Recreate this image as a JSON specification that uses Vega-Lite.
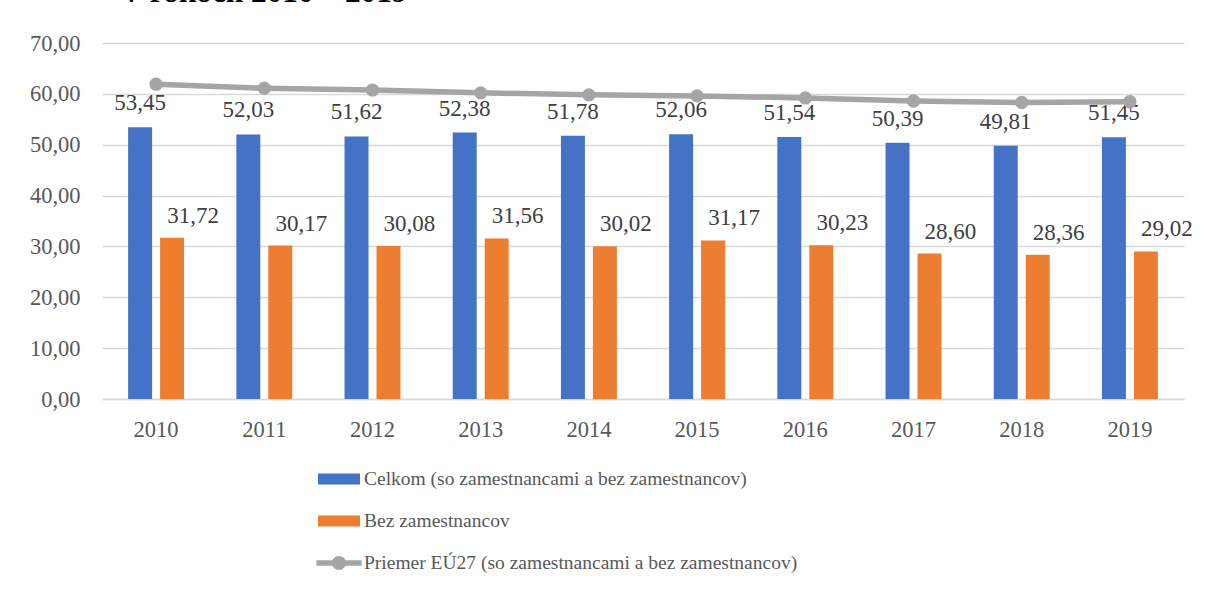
{
  "$schema": "https://vega.github.io/schema/vega-lite/v6.json",
  "width": 1082,
  "height": 356,
  "autosize": {"type": "none"},
  "padding": {"left": 102, "top": 43, "right": 22, "bottom": 191},
  "background": "white",
  "title": {
    "text": "V rokoch 2010 – 2019",
    "font": "Liberation Serif",
    "fontSize": 31.3,
    "fontWeight": "bold",
    "color": "#000000",
    "anchor": "start",
    "frame": "group",
    "dx": 18,
    "offset": -1,
    "baseline": "alphabetic"
  },
  "config": {
    "locale": {"number": {"decimal": ",", "thousands": " ", "grouping": [3], "currency": ["", " €"]}},
    "view": {"stroke": null},
    "font": "Liberation Serif"
  },
  "data": {
    "values": [
      {"year": "2010", "series": "Celkom (so zamestnancami a bez zamestnancov)", "value": 53.45},
      {"year": "2011", "series": "Celkom (so zamestnancami a bez zamestnancov)", "value": 52.03},
      {"year": "2012", "series": "Celkom (so zamestnancami a bez zamestnancov)", "value": 51.62},
      {"year": "2013", "series": "Celkom (so zamestnancami a bez zamestnancov)", "value": 52.38},
      {"year": "2014", "series": "Celkom (so zamestnancami a bez zamestnancov)", "value": 51.78},
      {"year": "2015", "series": "Celkom (so zamestnancami a bez zamestnancov)", "value": 52.06},
      {"year": "2016", "series": "Celkom (so zamestnancami a bez zamestnancov)", "value": 51.54},
      {"year": "2017", "series": "Celkom (so zamestnancami a bez zamestnancov)", "value": 50.39},
      {"year": "2018", "series": "Celkom (so zamestnancami a bez zamestnancov)", "value": 49.81},
      {"year": "2019", "series": "Celkom (so zamestnancami a bez zamestnancov)", "value": 51.45},
      {"year": "2010", "series": "Bez zamestnancov", "value": 31.72},
      {"year": "2011", "series": "Bez zamestnancov", "value": 30.17},
      {"year": "2012", "series": "Bez zamestnancov", "value": 30.08},
      {"year": "2013", "series": "Bez zamestnancov", "value": 31.56},
      {"year": "2014", "series": "Bez zamestnancov", "value": 30.02},
      {"year": "2015", "series": "Bez zamestnancov", "value": 31.17},
      {"year": "2016", "series": "Bez zamestnancov", "value": 30.23},
      {"year": "2017", "series": "Bez zamestnancov", "value": 28.60},
      {"year": "2018", "series": "Bez zamestnancov", "value": 28.36},
      {"year": "2019", "series": "Bez zamestnancov", "value": 29.02},
      {"year": "2010", "series": "Priemer EÚ27 (so zamestnancami a bez zamestnancov)", "value": 61.9},
      {"year": "2011", "series": "Priemer EÚ27 (so zamestnancami a bez zamestnancov)", "value": 61.1},
      {"year": "2012", "series": "Priemer EÚ27 (so zamestnancami a bez zamestnancov)", "value": 60.75},
      {"year": "2013", "series": "Priemer EÚ27 (so zamestnancami a bez zamestnancov)", "value": 60.2},
      {"year": "2014", "series": "Priemer EÚ27 (so zamestnancami a bez zamestnancov)", "value": 59.8},
      {"year": "2015", "series": "Priemer EÚ27 (so zamestnancami a bez zamestnancov)", "value": 59.6},
      {"year": "2016", "series": "Priemer EÚ27 (so zamestnancami a bez zamestnancov)", "value": 59.2},
      {"year": "2017", "series": "Priemer EÚ27 (so zamestnancami a bez zamestnancov)", "value": 58.6},
      {"year": "2018", "series": "Priemer EÚ27 (so zamestnancami a bez zamestnancov)", "value": 58.3},
      {"year": "2019", "series": "Priemer EÚ27 (so zamestnancami a bez zamestnancov)", "value": 58.45}
    ]
  },
  "encoding": {
    "x": {
      "field": "year",
      "type": "nominal",
      "scale": {"paddingInner": 0.483, "paddingOuter": 0.2415},
      "axis": {
        "title": null,
        "labelAngle": 0,
        "ticks": false,
        "domain": true,
        "domainColor": "#D9D9D9",
        "domainWidth": 1.3,
        "labelFont": "Liberation Serif",
        "labelFontSize": 22.5,
        "labelColor": "#595959",
        "labelPadding": 19
      }
    },
    "y": {
      "field": "value",
      "type": "quantitative",
      "scale": {"domain": [0, 70], "nice": false},
      "axis": {
        "title": null,
        "values": [0, 10, 20, 30, 40, 50, 60, 70],
        "format": ".2f",
        "ticks": false,
        "domain": false,
        "gridColor": "#D9D9D9",
        "gridWidth": 1.3,
        "labelFont": "Liberation Serif",
        "labelFontSize": 22.5,
        "labelColor": "#595959",
        "labelPadding": 22
      }
    }
  },
  "layer": [
    {
      "transform": [{"filter": "datum.series !== 'Priemer EÚ27 (so zamestnancami a bez zamestnancov)'"}],
      "mark": {"type": "bar"},
      "encoding": {
        "xOffset": {
          "field": "series",
          "type": "nominal",
          "scale": {"domain": ["Celkom (so zamestnancami a bez zamestnancov)", "Bez zamestnancov"], "paddingInner": 0.25, "paddingOuter": 0}
        },
        "color": {
          "field": "series",
          "type": "nominal",
          "scale": {
            "domain": ["Celkom (so zamestnancami a bez zamestnancov)", "Bez zamestnancov", "Priemer EÚ27 (so zamestnancami a bez zamestnancov)"],
            "range": ["#4472C4", "#ED7D31", "#A5A5A5"]
          },
          "legend": {
            "title": null,
            "orient": "none",
            "legendX": 223,
            "legendY": 422,
            "direction": "vertical",
            "padding": 0,
            "labelFont": "Liberation Serif",
            "labelFontSize": 19.5,
            "labelColor": "#595959",
            "labelOffset": 11,
            "rowPadding": 18,
            "symbolSize": 784,
            "symbolStrokeWidth": 0,
            "labelLimit": 800,
            "encode": {
              "symbols": {
                "update": {
                  "shape": {"signal": "datum.index === 2 ? 'M-1.62,-0.2H1.62V0.2H-1.62Z M0.5,0A0.5,0.5 0 1 1 -0.5,0A0.5,0.5 0 1 1 0.5,0Z' : 'M-1.5,-0.4H1.5V0.4H-1.5Z'"},
                  "fill": {"scale": "color", "field": "value"},
                  "fillOpacity": {"value": 1},
                  "opacity": {"value": 1},
                  "strokeWidth": {"value": 0}
                }
              }
            }
          }
        }
      }
    },
    {
      "transform": [{"filter": "datum.series === 'Celkom (so zamestnancami a bez zamestnancov)'"}],
      "mark": {"type": "text", "font": "Liberation Serif", "fontSize": 23, "color": "#404040", "baseline": "alphabetic", "dy": -17},
      "encoding": {
        "xOffset": {
          "field": "series",
          "type": "nominal",
          "scale": {"domain": ["Celkom (so zamestnancami a bez zamestnancov)", "Bez zamestnancov"], "paddingInner": 0.25, "paddingOuter": 0}
        },
        "text": {"field": "value", "type": "quantitative", "format": ".2f"}
      }
    },
    {
      "transform": [{"filter": "datum.series === 'Bez zamestnancov'"}],
      "mark": {"type": "text", "font": "Liberation Serif", "fontSize": 23, "color": "#404040", "baseline": "alphabetic", "dy": -15, "dx": 21},
      "encoding": {
        "xOffset": {
          "field": "series",
          "type": "nominal",
          "scale": {"domain": ["Celkom (so zamestnancami a bez zamestnancov)", "Bez zamestnancov"], "paddingInner": 0.25, "paddingOuter": 0}
        },
        "text": {"field": "value", "type": "quantitative", "format": ".2f"}
      }
    },
    {
      "transform": [{"filter": "datum.series === 'Priemer EÚ27 (so zamestnancami a bez zamestnancov)'"}],
      "mark": {"type": "line", "strokeWidth": 5.5, "color": "#A5A5A5"},
      "encoding": {}
    },
    {
      "transform": [{"filter": "datum.series === 'Priemer EÚ27 (so zamestnancami a bez zamestnancov)'"}],
      "mark": {"type": "point", "filled": true, "size": 177, "opacity": 1, "color": "#A5A5A5"},
      "encoding": {}
    }
  ]
}
